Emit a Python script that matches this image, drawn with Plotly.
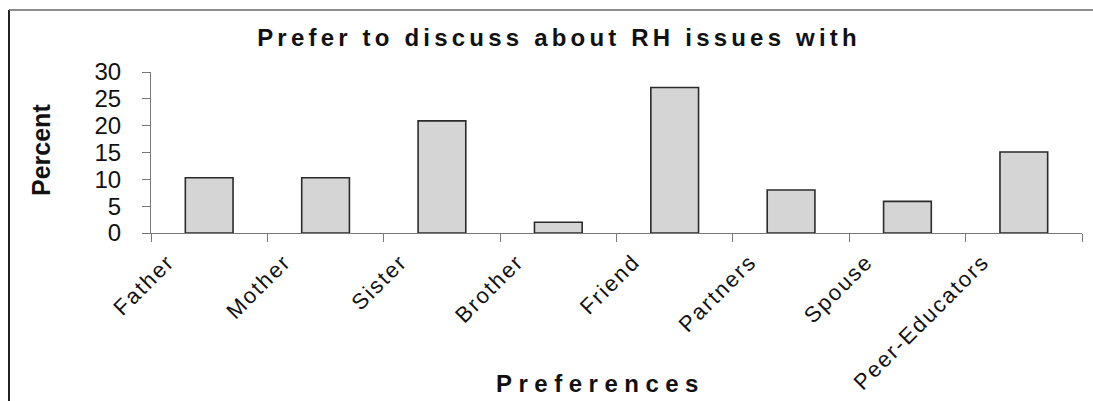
import plotly.graph_objects as go

categories = ["Father", "Mother", "Sister", "Brother", "Friend", "Partners", "Spouse", "Peer-Educators"]
percent = [10.3, 10.3, 20.9, 2.0, 27.1, 8.0, 5.9, 15.1]
y_ticks = [0, 5, 10, 15, 20, 25, 30]

title_text = "Prefer to discuss about RH issues with"
x_title = "Preferences"
y_title = "Percent"

W, H = 1093, 401
L, R, T, B = 151, 11, 72, 168
PW, PH = W - L - R, H - T - B


def px_x(px):
    return (px - L) / PW


def px_y(py):
    return (H - B - py) / PH


fig = go.Figure()
fig.add_trace(go.Bar(
    x=categories, y=percent,
    marker=dict(color="#d5d5d5", line=dict(color="#2b2b2b", width=1.6)),
    width=0.41,
))

fig.update_layout(
    width=W, height=H,
    margin=dict(l=L, r=R, t=T, b=B, pad=0, autoexpand=False),
    paper_bgcolor="white", plot_bgcolor="white",
    showlegend=False,
    font=dict(family="Liberation Sans, Arial, sans-serif", color="#111"),
    title=dict(
        text='<span style="letter-spacing:4.2px">' + title_text + '</span>',
        font=dict(size=24, family="Liberation Sans, Arial, sans-serif", weight="bold", color="#111"),
        x=559 / W, xanchor="center", xref="container",
        y=1 - 38 / H, yanchor="middle", yref="container",
    ),
    xaxis=dict(
        type="category", automargin=False,
        tickmode="array", tickvals=categories,
        ticktext=['<span style="letter-spacing:2px">' + c + '</span>' for c in categories],
        tickangle=-45,
        tickfont=dict(size=22, color="#111"),
        tickson="boundaries",
        ticks="outside", ticklen=8, tickcolor="#777", tickwidth=1,
        showline=True, linecolor="#777", linewidth=1.2,
        showgrid=False, zeroline=False,
        ticklabelshift=-41, ticklabelstandoff=6,
        range=[-0.5, len(categories) - 0.5],
    ),
    yaxis=dict(
        range=[0, 30], automargin=False,
        tickmode="array", tickvals=y_ticks, ticktext=[str(v) for v in y_ticks],
        tickfont=dict(size=24, color="#111"),
        ticks="outside", ticklen=8, tickcolor="#777", tickwidth=1,
        showline=True, linecolor="#777", linewidth=1.2,
        showgrid=False, zeroline=False,
        ticklabelstandoff=16,
    ),
    annotations=[
        dict(text=y_title, xref="paper", yref="paper", x=px_x(41), y=px_y(150),
             xanchor="center", yanchor="middle", textangle=-90, showarrow=False,
             font=dict(size=25, family="Liberation Sans Narrow, Liberation Sans, Arial", weight="bold", color="#111")),
        dict(text='<span style="letter-spacing:6.5px">' + x_title + '</span>', xref="paper", yref="paper",
             x=px_x(600), y=px_y(383),
             xanchor="center", yanchor="middle", showarrow=False,
             font=dict(size=24, family="Liberation Sans, Arial, sans-serif", weight="bold", color="#111")),
    ],
    shapes=[
        dict(type="line", xref="paper", yref="paper", x0=px_x(9), x1=px_x(9), y0=px_y(10), y1=px_y(401),
             line=dict(color="#222", width=2)),
        dict(type="line", xref="paper", yref="paper", x0=px_x(9), x1=px_x(1093), y0=px_y(10), y1=px_y(10),
             line=dict(color="#666", width=1.5)),
    ],
)

fig.write_html("out.html")
